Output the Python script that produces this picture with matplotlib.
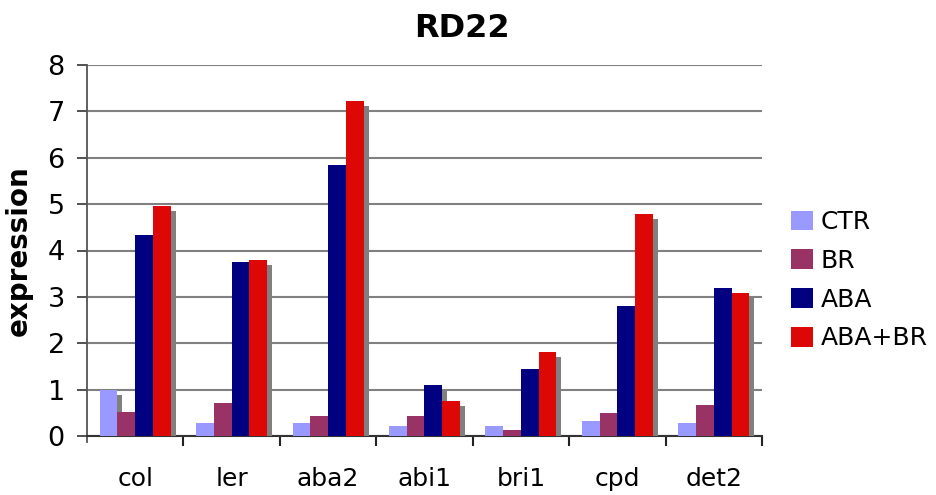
import numpy as np
import matplotlib.pyplot as plt
import matplotlib.patheffects as pe

genotypes = ['col', 'ler', 'aba2', 'abi1', 'bri1', 'cpd', 'det2']
ctr = [1.00, 0.28, 0.28, 0.22, 0.22, 0.33, 0.28]
br = [0.52, 0.72, 0.43, 0.43, 0.13, 0.50, 0.67]
aba = [4.34, 3.75, 5.85, 1.10, 1.45, 2.80, 3.20]
aba_br = [4.97, 3.80, 7.23, 0.76, 1.82, 4.78, 3.08]

series = [('CTR', ctr, '#9999FF'), ('BR', br, '#993366'),
          ('ABA', aba, '#000080'), ('ABA+BR', aba_br, '#DD0806')]

plt.rcParams['font.family'] = ['DejaVu Sans']

fig = plt.figure(figsize=(9.37, 4.95), dpi=100)
ax = fig.add_axes([87 / 937, 1 - 436 / 495, 675 / 937, 371 / 495])

x = np.arange(len(genotypes))
w = 0.184
# grey drop shadow under each bar, like the old Excel chart
shadow = [pe.SimplePatchShadow(offset=(3.6, -3.6), shadow_rgbFace='#808080', alpha=1.0), pe.Normal()]
for i, (name, vals, col) in enumerate(series):
    ax.bar(x + (i - 1.5) * w, vals, w, color=col, label=name,
           path_effects=shadow, zorder=3)

ax.set_xlim(-0.5, len(genotypes) - 0.5)
ax.set_ylim(0, 8)
ax.set_yticks(range(0, 9))
ax.yaxis.grid(True, color='#808080', linewidth=1.5, zorder=0)
ax.set_axisbelow(True)

ax.set_xticks(x)
ax.set_xticklabels(genotypes)
ax.set_xticks(np.arange(0.5, len(genotypes), 1), minor=True)
ax.tick_params(axis='x', which='major', length=0, labelsize=18, pad=22)
ax.tick_params(axis='x', which='minor', length=7, width=1.5, color='#222222')
ax.tick_params(axis='y', labelsize=19.5, length=7, width=1.2, color='#333333', pad=9)

for s in ['top', 'right']:
    ax.spines[s].set_visible(False)
ax.spines['left'].set_color('#555555')
ax.spines['left'].set_linewidth(1.3)
ax.spines['left'].set_bounds(-0.14, 8)
ax.spines['bottom'].set_color('#333333')
ax.spines['bottom'].set_linewidth(1.5)

ax.set_ylabel('expression', fontsize=20, fontweight='bold')
ax.yaxis.set_label_coords(-54 / 675, 0.5)
fig.text(462 / 937, 1 - 13 / 495, 'RD22', fontsize=23, fontweight='bold',
         ha='center', va='top')

leg = ax.legend(loc='center left', bbox_to_anchor=(1.0276, 0.42), frameon=False,
                borderaxespad=0, fontsize=18, handlelength=0.88, handleheight=0.84,
                labelspacing=0.59, handletextpad=0.32)
for h in leg.legend_handles:
    h.set_path_effects([])

fig.savefig('out.png', dpi=100)
